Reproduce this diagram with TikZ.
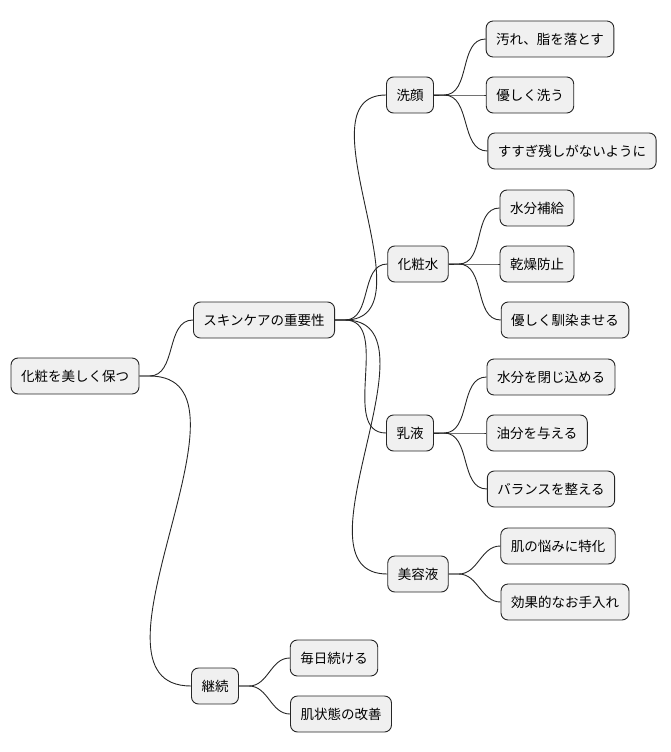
\documentclass[tikz,border=0pt]{standalone}
\usepackage{fontspec}
\setmainfont{Noto Sans CJK JP}
\begin{document}
\begin{tikzpicture}[x=1pt,y=-1pt,
  box/.style={draw=black!85,fill=black!6,rounded corners=7pt,line width=0.9pt,
    minimum height=36pt,inner xsep=10pt,font=\fontsize{13.5}{16}\selectfont},
  link/.style={draw=black!85,line width=0.9pt}]
\useasboundingbox (0,0) rectangle (670,752);
\node[box] (r) at (75,376) {化粧を美しく保つ};
\node[box] (s) at (264,320) {スキンケアの重要性};
\node[box] (k) at (215,686) {継続};
\node[box] (a) at (410,95) {洗顔};
\node[box] (b) at (418,264) {化粧水};
\node[box] (c) at (410,433) {乳液};
\node[box] (d) at (418,574) {美容液};
\node[box] (a1) at (550,39) {汚れ、脂を落とす};
\node[box] (a2) at (530,95) {優しく洗う};
\node[box] (a3) at (572,151) {すすぎ残しがないように};
\node[box] (b1) at (537,208) {水分補給};
\node[box] (b2) at (537,264) {乾燥防止};
\node[box] (b3) at (565,320) {優しく馴染ませる};
\node[box] (c1) at (551,377) {水分を閉じ込める};
\node[box] (c2) at (537,433) {油分を与える};
\node[box] (c3) at (551,489) {バランスを整える};
\node[box] (d1) at (558,546) {肌の悩みに特化};
\node[box] (d2) at (565,602) {効果的なお手入れ};
\node[box] (k1) at (334,658) {毎日続ける};
\node[box] (k2) at (341,714) {肌状態の改善};
\foreach \p/\c in {r/s,r/k,s/a,s/b,s/c,s/d,a/a1,a/a2,a/a3,b/b1,b/b2,b/b3,c/c1,c/c2,c/c3,d/d1,d/d2,k/k1,k/k2}
  \draw[link] (\p.east) -- ++(10,0) to[out=0,in=180] (\c.west);
\end{tikzpicture}
\end{document}
